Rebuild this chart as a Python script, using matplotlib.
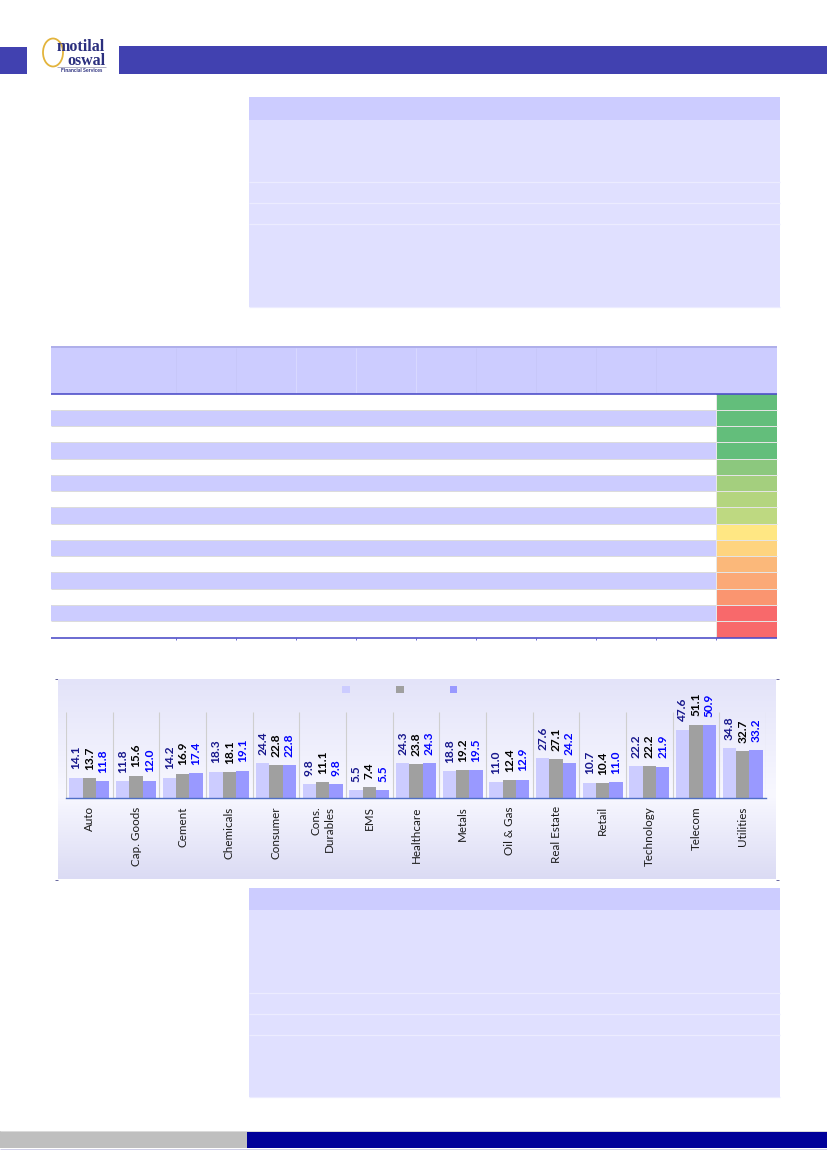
import matplotlib
matplotlib.use('Agg')
import matplotlib.pyplot as plt
import numpy as np
from matplotlib.patches import Rectangle, Ellipse, Patch
from matplotlib.colors import LinearSegmentedColormap

plt.rcParams['font.family'] = ['Lato', 'DejaVu Sans']

# ---------------- data ----------------
categories = ['Auto', 'Cap. Goods', 'Cement', 'Chemicals', 'Consumer', 'Cons.\nDurables', 'EMS',
              'Healthcare', 'Metals', 'Oil & Gas', 'Real Estate', 'Retail', 'Technology',
              'Telecom', 'Utilities']
series_a = [14.1, 11.8, 14.2, 18.3, 24.4, 9.8, 5.5, 24.3, 18.8, 11.0, 27.6, 10.7, 22.2, 47.6, 34.8]
series_b = [13.7, 15.6, 16.9, 18.1, 22.8, 11.1, 7.4, 23.8, 19.2, 12.4, 27.1, 10.4, 22.2, 51.1, 32.7]
series_c = [11.8, 12.0, 17.4, 19.1, 22.8, 9.8, 5.5, 24.3, 19.5, 12.9, 24.2, 11.0, 21.9, 50.9, 33.2]
series_colors = ['#CCCCFF', '#A0A0A0', '#9999FF']
label_colors = ['#16168C', '#000000', '#0000FF']
heat_colors = ['#63BE7B', '#63BE7B', '#63BE7B', '#63BE7B', '#8CC87E', '#A4CF7E', '#B4D57F',
               '#BED981', '#FFE783', '#FED47F', '#FBB87A', '#FBA977', '#FA9570', '#F8696B', '#F8696B']

W, H = 827, 1169
fig = plt.figure(figsize=(8.27, 11.69), dpi=100)
page = fig.add_axes([0, 0, 1, 1])
page.set_xlim(0, W)
page.set_ylim(H, 0)
page.axis('off')
PX = 0.72


def rect(x0, y0, x1, y1, color, z=1):
    page.add_patch(Rectangle((x0, y0), x1 - x0, y1 - y0, facecolor=color, edgecolor='none', zorder=z))


def hline(y, x0, x1, color, lw=1.0, z=2):
    page.plot([x0, x1], [y, y], color=color, lw=lw * PX, solid_capstyle='butt', zorder=z)


def vline(x, y0, y1, color, lw=1.0, z=2):
    page.plot([x, x], [y0, y1], color=color, lw=lw * PX, solid_capstyle='butt', zorder=z)


# ---------------- header ----------------
rect(0, 47, 27, 74, '#4141B0')
rect(119, 46, 827, 74, '#4141B0')
page.add_patch(Ellipse((53, 52.5), 20, 28, facecolor='none', edgecolor='#E3B43C', lw=1.3, zorder=3))
page.text(105, 54, 'motilal\noswal', ha='right', va='center', fontsize=11.5, fontweight='bold',
          family='Liberation Serif', color='#2B2F7E', linespacing=0.82, zorder=4)
hline(66.5, 57, 106, '#A0A0B8', 0.8)
page.text(82, 71, 'Financial Services', ha='center', va='center', fontsize=3.8,
          fontweight='bold', color='#2B2F7E', zorder=4)

# ---------------- table 1 ----------------
rect(249, 97, 780, 120, '#CCCCFF')
rect(249, 120, 780, 307, '#E0E0FF')
for y in (182, 203, 224, 307):
    hline(y, 249, 780, '#ECECFF', 1.3)

# ---------------- table 2 ----------------
t_left, t_right, heat_left = 51, 777, 716
rect(t_left, 346, t_right, 393.5, '#CCCCFF')
hline(346.5, t_left, t_right, '#A8A8E6', 1.6)
col_x = [175.6, 235.6, 295.6, 355.6, 415.6, 475.6, 535.6, 595.6, 655.6]
for i, x in enumerate(col_x):
    vline(x, 348, 393, '#DCDCFF' if i in (2, 3, 4) else '#C6C6F8', 0.8)
n_rows = len(heat_colors)
y_top, y_bot = 393.5, 637.5
rh = (y_bot - y_top) / n_rows
for i in range(n_rows):
    y0 = y_top + i * rh
    if i % 2 == 1:
        rect(t_left, y0, heat_left, y0 + rh, '#CCCCFF')
    rect(heat_left, y0, t_right, y0 + rh, heat_colors[i])
    if i > 0:
        hline(y0, t_left, heat_left, '#DCDCDC', 1.0)
        hline(y0, heat_left, t_right, '#E4E4E4', 1.0)
vline(heat_left, y_top, y_bot, '#E8E8E8', 1.0)
hline(393.5, t_left, t_right, '#4B4BC8', 1.6, z=3)
hline(637.5, t_left, t_right, '#4B4BC8', 1.6, z=3)
for x in col_x + [heat_left]:
    vline(x, 637.5, 640, '#4B4BC8', 0.8)

# ---------------- chart box ----------------
bx0, bx1, by0, by1 = 58, 776, 679, 879
bg = fig.add_axes([bx0 / W, 1 - by1 / H, (bx1 - bx0) / W, (by1 - by0) / H])
grad_cmap = LinearSegmentedColormap.from_list(
    'g', [(0, '#E3E3F9'), (0.58, '#F8F8FF'), (1.0, '#DBDBF4')])
bg.imshow(np.linspace(0, 1, 256).reshape(-1, 1), aspect='auto', cmap=grad_cmap,
          extent=(0, 1, 1, 0))
bg.axis('off')
for x, d in ((57, -1), (777, 1)):
    for y in (678.5, 879.5):
        hline(y, x - 2 if d < 0 else x - 1, x + 1 if d < 0 else x + 2, '#6A6AA0', 1.0, z=5)

ax = fig.add_axes([66 / W, 1 - 798 / H, 700 / W, 86 / H])
ax.patch.set_alpha(0)
xpos = np.arange(len(categories))
bw = 0.285
ax.vlines(np.arange(-0.5, len(categories) + 0.5, 1), 0, 60, colors='#CFCFCF', lw=0.8, zorder=1)
containers = []
for k, (vals, col) in enumerate(zip([series_a, series_b, series_c], series_colors)):
    c = ax.bar(xpos + (k - 1) * bw, vals, bw, color=col, edgecolor='none', zorder=2)
    containers.append(c)
for c, lc in zip(containers, label_colors):
    ax.bar_label(c, fmt='%.1f', rotation=90, padding=6, color=lc, fontsize=8.6,
                 fontweight='bold')
ax.set_xlim(-0.5, len(categories) - 0.5)
ax.set_ylim(0, 60)
ax.set_yticks([])
ax.set_xticks(xpos)
ax.set_xticklabels(categories, rotation=90, fontsize=8.4, color='#1A1A1A')
for lbl in ax.get_xticklabels():
    lbl.set_multialignment('right')
ax.tick_params(axis='x', length=0, pad=6)
for s in ('top', 'left', 'right'):
    ax.spines[s].set_visible(False)
ax.spines['bottom'].set_color('#4F6FC6')
ax.spines['bottom'].set_linewidth(1.0)

handles = [Patch(facecolor=c, edgecolor='none') for c in series_colors]
fig.legend(handles, ['', '', ''], loc='center', bbox_to_anchor=(401 / W, 1 - 690 / H), ncol=3,
           frameon=False, fontsize=8, handlelength=0.65, handleheight=0.65,
           handletextpad=0.2, columnspacing=4.0)

# ---------------- table 3 ----------------
rect(249, 888, 780, 910, '#CCCCFF')
rect(249, 910, 780, 1097, '#E0E0FF')
for y in (993, 1014, 1035, 1097):
    hline(y, 249, 780, '#ECECFF', 1.3)

# ---------------- footer ----------------
rect(0, 1131, 246.5, 1148, '#BFBFBF')
rect(246.5, 1131, 827, 1148, '#000099')
hline(1130.5, 0, 827, '#DADADA', 1.0)
hline(1148.5, 0, 827, '#D0D0E8', 1.0)

fig.savefig('out.png', dpi=100)
